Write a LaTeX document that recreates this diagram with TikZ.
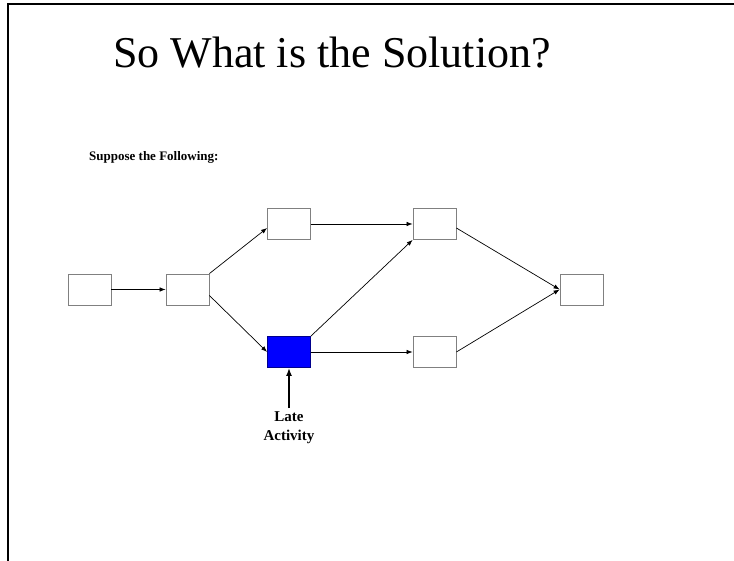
\documentclass[tikz,border=0pt]{standalone}
\usepackage{fontspec}
\setmainfont{Liberation Serif}
\usetikzlibrary{arrows.meta}
\begin{document}
\begin{tikzpicture}[x=1pt, y=-1pt,
        box/.style={rectangle, draw=gray, fill=white, minimum width=43pt, minimum height=31pt, inner sep=0pt, line width=0.8pt},
        latebox/.style={box, draw=blue!55!black, fill=blue},
        arrow/.style={-{Latex[length=6pt,width=4.5pt]}, line width=0.7pt},
        bigarrow/.style={-{Latex[length=8pt,width=6pt]}, line width=1.8pt},
        txt/.style={font=\bfseries\fontsize{13}{15}\selectfont, inner sep=0pt}
    ]
    \useasboundingbox (0,0) rectangle (734,561);
    \draw[line width=2pt] (734,4) -- (8,4) -- (8,561);
    \node[anchor=base west, inner sep=0pt, font=\fontsize{44}{50}\selectfont] (title) at (113,68) {So What is the Solution?};
    \node[txt, anchor=base west] (suppose) at (89,161) {Suppose the Following:};
    \node[box] (a) at (89.5,289.5) {};
    \node[box] (b) at (187.5,289.5) {};
    \node[box] (c) at (289,224) {};
    \node[latebox] (d) at (289,352) {};
    \node[box] (e) at (434.5,224) {};
    \node[box] (f) at (434.5,352) {};
    \node[box] (g) at (581.5,289.5) {};
    \draw[arrow] (a) -- (b);
    \draw[arrow] (b.north east) -- ([yshift=-4pt]c.west);
    \draw[arrow] ([yshift=-6pt]b.east) -- (d.west);
    \draw[arrow] (c) -- (e);
    \draw[arrow] (d.north east) -- (e.south west);
    \draw[arrow] (d) -- (f);
    \draw[arrow] ([yshift=-4pt]e.east) -- (g.west);
    \draw[arrow] (f.east) -- (g.west);
    \node[txt, align=center, anchor=north, font=\bfseries\fontsize{15}{19}\selectfont] (late) at (289,411) {Late\\Activity};
    \draw[bigarrow] ([yshift=3pt]late.north) -- (d.south);
\end{tikzpicture}
\end{document}
